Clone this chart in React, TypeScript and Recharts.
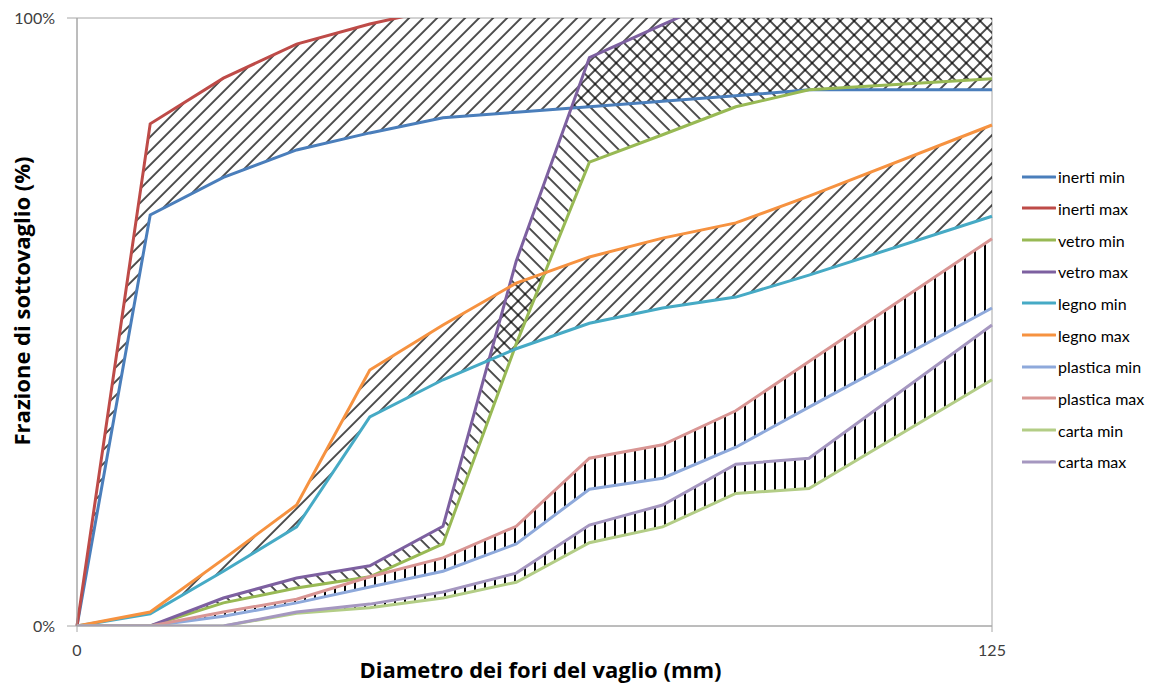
import React from 'react';
import {
  ComposedChart,
  Line,
  Area,
  XAxis,
  YAxis,
  CartesianGrid,
} from 'recharts';

// Sieve hole diameters (mm)
const DIAMETERS = [0, 10, 20, 30, 40, 50, 60, 70, 80, 90, 100, 125];

// Undersize fraction per material (min / max envelope); the axis is capped at 100%
const INERTI_MIN = [0, 0.676, 0.738, 0.783, 0.811, 0.836, 0.845, 0.854, 0.863, 0.872, 0.882, 0.882];
const INERTI_MAX = [0, 0.826, 0.901, 0.957, 0.99, 1.017, 1.03, 1.03, 1.03, 1.03, 1.03, 1.03];
const VETRO_MIN = [0, 0, 0.038, 0.0625, 0.081, 0.135, 0.464, 0.763, 0.808, 0.854, 0.882, 0.9];
const VETRO_MAX = [0, 0, 0.046, 0.079, 0.099, 0.164, 0.6, 0.935, 0.989, 1.043, 1.05, 1.05];
const LEGNO_MIN = [0, 0.02, 0.09, 0.163, 0.344, 0.405, 0.456, 0.498, 0.523, 0.541, 0.577, 0.674];
const LEGNO_MAX = [0, 0.023, 0.11, 0.199, 0.421, 0.495, 0.564, 0.607, 0.638, 0.663, 0.707, 0.824];
const PLASTICA_MIN = [0, 0, 0.016, 0.038, 0.064, 0.09, 0.135, 0.225, 0.243, 0.294, 0.36, 0.523];
const PLASTICA_MAX = [0, 0, 0.023, 0.044, 0.081, 0.112, 0.164, 0.276, 0.298, 0.354, 0.435, 0.637];
const CARTA_MIN = [0, 0, 0, 0.021, 0.03, 0.046, 0.072, 0.137, 0.163, 0.218, 0.226, 0.405];
const CARTA_MAX = [0, 0, 0, 0.023, 0.036, 0.056, 0.087, 0.166, 0.199, 0.266, 0.276, 0.495];

const X_TICKS = [0, 125];
const Y_TICKS = [0, 1];

const X_TITLE = 'Diametro dei fori del vaglio (mm)';
const Y_TITLE = 'Frazione di sottovaglio (%)';

type SeriesDef = { key: string; name: string; color: string; values: number[] };

const SERIES: SeriesDef[] = [
  { key: 'inertiMin', name: 'inerti min', color: '#4A7EBB', values: INERTI_MIN },
  { key: 'inertiMax', name: 'inerti max', color: '#BE4B48', values: INERTI_MAX },
  { key: 'vetroMin', name: 'vetro min', color: '#98B954', values: VETRO_MIN },
  { key: 'vetroMax', name: 'vetro max', color: '#7D60A0', values: VETRO_MAX },
  { key: 'legnoMin', name: 'legno min', color: '#46AAC5', values: LEGNO_MIN },
  { key: 'legnoMax', name: 'legno max', color: '#F69240', values: LEGNO_MAX },
  { key: 'plasticaMin', name: 'plastica min', color: '#8EA9DB', values: PLASTICA_MIN },
  { key: 'plasticaMax', name: 'plastica max', color: '#D99694', values: PLASTICA_MAX },
  { key: 'cartaMin', name: 'carta min', color: '#B3CD86', values: CARTA_MIN },
  { key: 'cartaMax', name: 'carta max', color: '#A597C0', values: CARTA_MAX },
];

// Hatched bands between the min and max curve of each material
const BANDS = [
  { id: 'inerti', lo: 'inertiMin', hi: 'inertiMax', pattern: 'hatchUp' },
  { id: 'vetro', lo: 'vetroMin', hi: 'vetroMax', pattern: 'hatchDown' },
  { id: 'legno', lo: 'legnoMin', hi: 'legnoMax', pattern: 'hatchUp' },
  { id: 'plastica', lo: 'plasticaMin', hi: 'plasticaMax', pattern: 'hatchVert' },
  { id: 'carta', lo: 'cartaMin', hi: 'cartaMax', pattern: 'hatchVert' },
];

const rows = DIAMETERS.map((x, i) => {
  const row: Record<string, number> = { x };
  SERIES.forEach((s) => {
    row[s.key] = s.values[i];
  });
  return row;
});

const FONT = 'Lato, "Open Sans", sans-serif';
const TITLE_FONT = '"Open Sans", Lato, sans-serif';
const FRAME = '#A6A6A6';
const TICK_COLOR = '#404040';

const XTitle = (props: any) => {
  const vb = props.viewBox || {};
  const cx = vb.x + vb.width / 2 + 6;
  return (
    <text x={cx} y={678} textAnchor="middle" fontFamily={TITLE_FONT} fontWeight={700} fontSize={22} fill="#000">
      {X_TITLE}
    </text>
  );
};

const YTitle = (props: any) => {
  const vb = props.viewBox || {};
  const cx = 30;
  const cy = vb.y + vb.height / 2 - 21;
  return (
    <text
      x={cx}
      y={cy}
      transform={`rotate(-90, ${cx}, ${cy})`}
      textAnchor="middle"
      fontFamily={TITLE_FONT}
      fontWeight={700}
      fontSize={22}
      fill="#000"
    >
      {Y_TITLE}
    </text>
  );
};

const LegendBox = () => (
  <div
    style={{
      position: 'absolute',
      left: 1022,
      top: 161,
      fontFamily: FONT,
      fontSize: 16,
      color: '#000',
    }}
  >
    {SERIES.map((s) => (
      <div key={s.key} style={{ display: 'flex', alignItems: 'center', height: 31.67, whiteSpace: 'nowrap' }}>
        <svg width={34} height={6} style={{ display: 'block' }}>
          <line x1={0} y1={3} x2={33} y2={3} stroke={s.color} strokeWidth={3} strokeLinecap="round" />
        </svg>
        <span style={{ marginLeft: 2 }}>{s.name}</span>
      </div>
    ))}
  </div>
);

export default function App() {
  return (
    <div style={{ position: 'absolute', left: 0, top: 0, width: 1155, height: 686, background: '#fff' }}>
      <ComposedChart
        width={1155}
        height={686}
        data={rows}
        margin={{ top: 18, right: 163, bottom: 0, left: 0 }}
      >
        <defs>
          <pattern id="hatchUp" patternUnits="userSpaceOnUse" width={9.9} height={9.9} patternTransform="rotate(45)">
            <line x1={5} y1={-1} x2={5} y2={11} stroke="#000" strokeWidth={1.4} />
          </pattern>
          <pattern id="hatchDown" patternUnits="userSpaceOnUse" width={9.9} height={9.9} patternTransform="rotate(-45)">
            <line x1={5} y1={-1} x2={5} y2={11} stroke="#000" strokeWidth={1.4} />
          </pattern>
          <pattern id="hatchVert" patternUnits="userSpaceOnUse" width={10} height={10}>
            <line x1={5} y1={-1} x2={5} y2={11} stroke="#000" strokeWidth={2} />
          </pattern>
        </defs>
        <CartesianGrid stroke={FRAME} strokeWidth={1} />
        <XAxis
          dataKey="x"
          type="number"
          domain={[0, 125]}
          ticks={X_TICKS}
          height={60}
          axisLine={{ stroke: FRAME }}
          tickLine={{ stroke: FRAME }}
          tickSize={6}
          tickMargin={13}
          tick={{ fill: TICK_COLOR, fontSize: 16, fontFamily: FONT }}
          label={<XTitle />}
        />
        <YAxis
          type="number"
          domain={[0, 1]}
          ticks={Y_TICKS}
          width={77}
          allowDataOverflow
          axisLine={{ stroke: FRAME }}
          tickLine={{ stroke: FRAME }}
          tickSize={10}
          tickMargin={12}
          tickFormatter={(v: number) => `${Math.round(v * 100)}%`}
          tick={{ fill: TICK_COLOR, fontSize: 16, fontFamily: FONT }}
          label={<YTitle />}
        />
        {BANDS.map((b) => (
          <Area
            key={b.id}
            type="linear"
            dataKey={(d: any) => [d[b.lo], d[b.hi]]}
            stroke="none"
            fill={`url(#${b.pattern})`}
            fillOpacity={1}
            legendType="none"
            activeDot={false}
            isAnimationActive={false}
          />
        ))}
        {SERIES.map((s) => (
          <Line
            key={s.key}
            type="linear"
            dataKey={s.key}
            name={s.name}
            stroke={s.color}
            strokeWidth={3}
            dot={false}
            activeDot={false}
            isAnimationActive={false}
          />
        ))}
      </ComposedChart>
      <LegendBox />
    </div>
  );
}
